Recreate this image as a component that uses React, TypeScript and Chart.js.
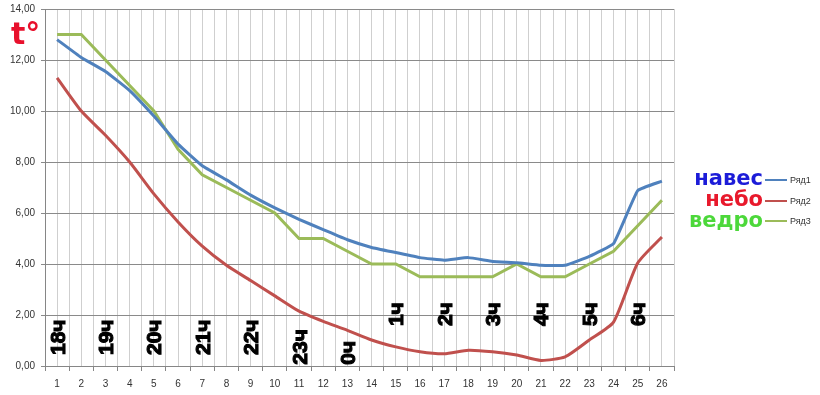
import React, { useEffect, useRef } from "react";
import { Chart, registerables } from "chart.js";

Chart.register(...registerables);

const categories = [1, 2, 3, 4, 5, 6, 7, 8, 9, 10, 11, 12, 13, 14, 15, 16, 17, 18, 19, 20, 21, 22, 23, 24, 25, 26];
const series1 = [12.8, 12.1, 11.55, 10.8, 9.8, 8.7, 7.85, 7.3, 6.7, 6.2, 5.75, 5.35, 4.95, 4.65, 4.45, 4.25, 4.15, 4.25, 4.1, 4.05, 3.95, 3.95, 4.3, 4.8, 6.88, 7.25];
const series2 = [11.3, 10.0, 9.05, 8.0, 6.75, 5.65, 4.7, 3.95, 3.35, 2.75, 2.15, 1.75, 1.4, 1.02, 0.75, 0.56, 0.48, 0.62, 0.56, 0.43, 0.22, 0.36, 1.02, 1.72, 4.04, 5.06];
const series3 = [13, 13, 12, 11, 10, 8.5, 7.5, 7, 6.5, 6, 5, 5, 4.5, 4, 4, 3.5, 3.5, 3.5, 3.5, 4, 3.5, 3.5, 4, 4.5, 5.5, 6.5];
const seriesNames = ["Ряд1", "Ряд2", "Ряд3"];
const legendWords = ["навес", "небо", "ведро"];
const hourLabels = ["18ч", "19ч", "20ч", "21ч", "22ч", "23ч", "0ч", "1ч", "2ч", "3ч", "4ч", "5ч", "6ч"];
const hourCategories = [1, 3, 5, 7, 9, 11, 13, 15, 17, 19, 21, 23, 25];
const yTickValues = [0, 2, 4, 6, 8, 10, 12, 14];

// annotation anchors (value on y axis where the rotated label starts / ends)
const hourAnchor = [0.43, 0.43, 0.43, 0.43, 0.43, 0.05, 0.05, 2.5, 2.5, 2.5, 2.5, 2.5, 2.5];
const hourAlign = ["start", "start", "start", "start", "start", "start", "start", "end", "end", "end", "end", "end", "end"];

const lineColors = ["#4F81BD", "#C0504D", "#9BBB59"];
const wordColors = ["#1c1cd8", "#e8192c", "#4cd83a"];

const hourPlugin = {
  id: "hourLabels",
  afterDatasetsDraw(chart: any) {
    const ctx = chart.ctx;
    const xs = chart.scales.x;
    const ys = chart.scales.y;
    ctx.save();
    ctx.font = "bold 21px 'Liberation Sans', Arial, sans-serif";
    ctx.fillStyle = "#000";
    ctx.strokeStyle = "#000";
    ctx.lineWidth = 1.1;
    ctx.textBaseline = "alphabetic";
    hourLabels.forEach((t, i) => {
      const px = xs.getPixelForValue(hourCategories[i]);
      const py = ys.getPixelForValue(hourAnchor[i]);
      ctx.save();
      ctx.translate(px + 7.5, py);
      ctx.rotate(-Math.PI / 2);
      ctx.textAlign = hourAlign[i] === "start" ? "left" : "right";
      ctx.fillText(t, 0, 0);
      ctx.strokeText(t, 0, 0);
      ctx.restore();
    });
    ctx.restore();
  },
};

export default function App() {
  const ref = useRef<HTMLCanvasElement | null>(null);

  useEffect(() => {
    document.body.style.margin = "0";
    if (!ref.current) return;
    const mk = (arr: number[]) => categories.map((c, i) => ({ x: c, y: arr[i] }));
    const halfTicks: number[] = [];
    for (let v = 0.5; v <= 26.5; v += 0.5) halfTicks.push(v);
    const chart = new Chart(ref.current, {
      type: "line",
      data: {
        datasets: [
          { label: seriesNames[0], data: mk(series1), borderColor: lineColors[0], borderWidth: 3, pointRadius: 0, tension: 0.1 },
          { label: seriesNames[1], data: mk(series2), borderColor: lineColors[1], borderWidth: 3, pointRadius: 0, tension: 0.2 },
          { label: seriesNames[2], data: mk(series3), borderColor: lineColors[2], borderWidth: 3, pointRadius: 0, tension: 0 },
        ],
      },
      options: {
        animation: false,
        responsive: false,
        maintainAspectRatio: false,
        layout: { padding: { left: 0, right: 146, top: 9, bottom: 0 } },
        plugins: { legend: { display: false }, tooltip: { enabled: false } },
        scales: {
          x: {
            type: "linear",
            min: 0.5,
            max: 26.5,
            afterBuildTicks: (s: any) => {
              s.ticks = halfTicks.map((v) => ({ value: v }));
            },
            afterFit: (s: any) => {
              s.height = 29;
              s.paddingLeft = 0;
              s.paddingRight = 0;
            },
            ticks: {
              autoSkip: false,
              maxRotation: 0,
              padding: 7,
              color: "#333",
              font: { family: "'Liberation Sans', Arial, sans-serif", size: 10 },
              callback: (v: any) => (Number.isInteger(v) ? String(v) : ""),
            },
            grid: {
              color: "#cfcfcf",
              tickLength: 5,
              tickColor: (c: any) => (c.tick && Number.isInteger(c.tick.value) ? "rgba(0,0,0,0)" : "#868686"),
            },
            border: { color: "#868686" },
          },
          y: {
            min: 0,
            max: 14,
            afterBuildTicks: (s: any) => {
              s.ticks = yTickValues.map((v) => ({ value: v }));
            },
            afterFit: (s: any) => {
              s.width = 45;
              s.paddingTop = 0;
              s.paddingBottom = 0;
            },
            ticks: {
              padding: 6,
              color: "#333",
              font: { family: "'Liberation Sans', Arial, sans-serif", size: 10 },
              callback: (v: any) => Number(v).toFixed(2).replace(".", ","),
            },
            grid: { color: "#8a8a8a", tickLength: 4, tickColor: "#8a8a8a" },
            border: { color: "#868686" },
          },
        },
      },
      plugins: [hourPlugin],
    } as any);
    return () => chart.destroy();
  }, []);

  const wordTops = [168, 189, 210];
  const lineYs = [180, 201, 221];

  return (
    <div style={{ position: "relative", width: 820, height: 395, background: "#fff", overflow: "hidden" }}>
      <canvas ref={ref} width={820} height={395} style={{ position: "absolute", left: 0, top: 0, width: 820, height: 395 }} />
      <div
        style={{
          position: "absolute",
          left: 11,
          top: 19,
          fontFamily: "'DejaVu Sans', sans-serif",
          fontWeight: "bold",
          fontSize: 30,
          lineHeight: "30px",
          color: "#e8102c",
        }}
      >
        t°
      </div>
      {legendWords.map((w, i) => (
        <div
          key={w}
          style={{
            position: "absolute",
            right: 820 - 763,
            top: wordTops[i],
            fontFamily: "'DejaVu Sans', sans-serif",
            fontWeight: "bold",
            fontSize: 21,
            lineHeight: "21px",
            color: wordColors[i],
            whiteSpace: "nowrap",
          }}
        >
          {w}
        </div>
      ))}
      {seriesNames.map((n, i) => (
        <React.Fragment key={n}>
          <div style={{ position: "absolute", left: 765, top: lineYs[i] - 1, width: 22, height: 2, background: lineColors[i] }} />
          <div
            style={{
              position: "absolute",
              left: 790,
              top: lineYs[i] - 6,
              fontFamily: "'Liberation Sans', Arial, sans-serif",
              fontSize: 9,
              lineHeight: "12px",
              color: "#333",
              whiteSpace: "nowrap",
            }}
          >
            {n}
          </div>
        </React.Fragment>
      ))}
    </div>
  );
}
